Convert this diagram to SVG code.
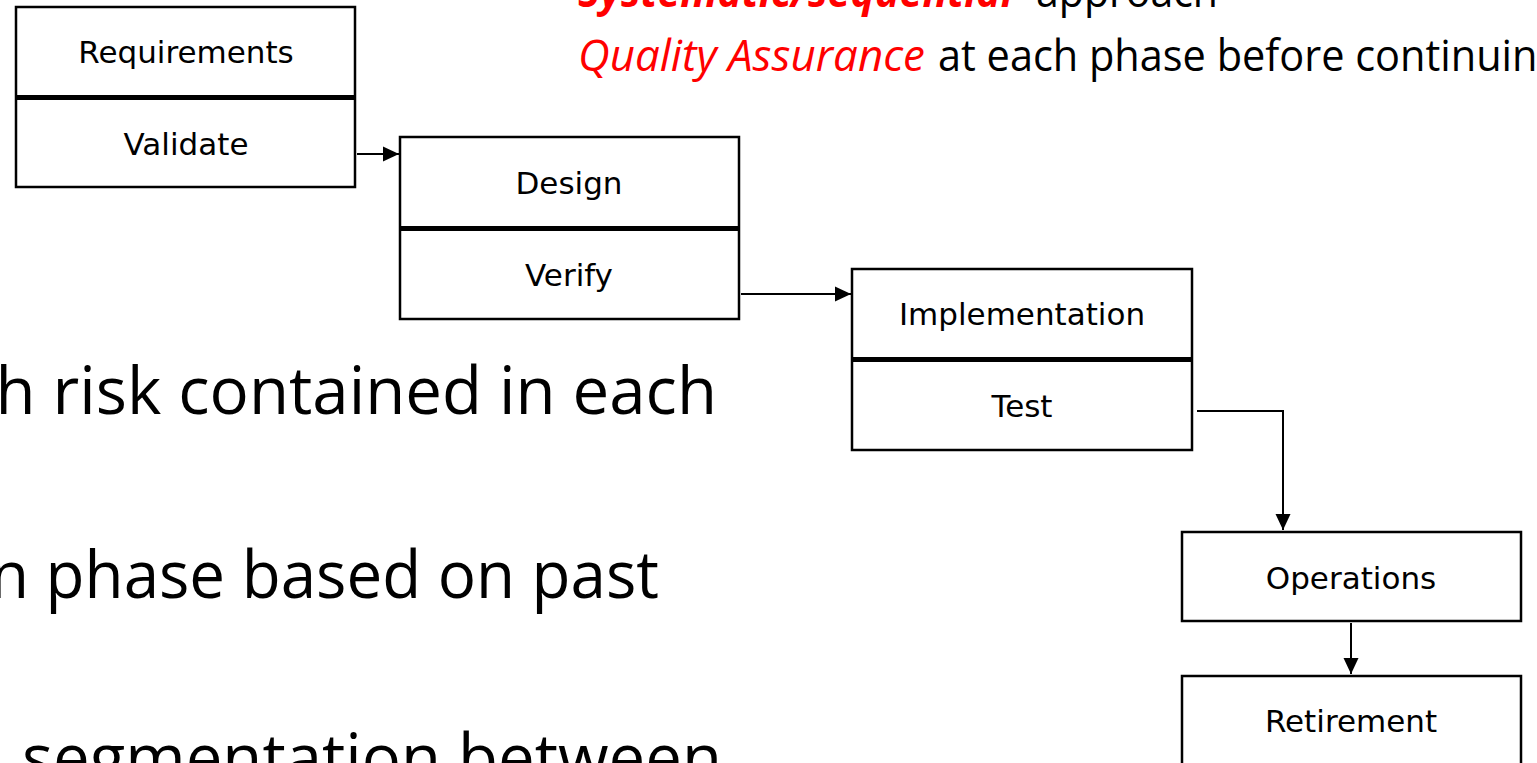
<svg xmlns="http://www.w3.org/2000/svg" width="1537" height="763" viewBox="0 0 1537 763">
<style>
.bg{fill:#ffffff}
.box{fill:#ffffff;stroke:#000000;stroke-width:2.5}
.div{stroke:#000000;stroke-width:5}
.lbl{font-family:"DejaVu Sans","Verdana",sans-serif;font-size:31px;fill:#000000;text-anchor:middle}
.conn{fill:none;stroke:#000000;stroke-width:2}
.body{font-family:"Open Sans","Noto Sans",sans-serif;fill:#000000}
.big{font-size:66px}
.top{font-size:43px}
.red{fill:#ff0000;font-style:italic}
.redb{fill:#ff0000;font-style:italic;font-weight:bold}
</style>
<defs>
<marker id="arr" markerUnits="userSpaceOnUse" markerWidth="17" markerHeight="16" refX="16" refY="8" orient="auto">
<path d="M0,0.5 L16,8 L0,15.5 Z" fill="#000000"/>
</marker>
</defs>
<rect class="bg" x="0" y="0" width="1537" height="763"/>
<g id="bullets">
<text class="body top redb" x="578" y="7" textLength="435" lengthAdjust="spacingAndGlyphs">Systematic/sequential</text>
<text class="body top" x="1036" y="7" textLength="182" lengthAdjust="spacingAndGlyphs">approach</text>
<text class="body top red" x="578" y="71" textLength="347" lengthAdjust="spacingAndGlyphs">Quality Assurance</text>
<text class="body top" x="938" y="71" textLength="622" lengthAdjust="spacingAndGlyphs">at each phase before continuing</text>
<text class="body big" x="717" y="414" text-anchor="end" textLength="812" lengthAdjust="spacingAndGlyphs">with risk contained in each</text>
<text class="body big" x="659" y="598" text-anchor="end" textLength="669" lengthAdjust="spacingAndGlyphs">n phase based on past</text>
<text class="body big" x="722" y="781" text-anchor="end" textLength="757" lengthAdjust="spacingAndGlyphs">d segmentation between</text>
</g>
<g id="node-requirements">
<rect class="box" x="16" y="7" width="339" height="180"/>
<line class="div" x1="16" y1="97.5" x2="355" y2="97.5"/>
<text class="lbl" x="186" y="63">Requirements</text>
<text class="lbl" x="186" y="155">Validate</text>
</g>
<g id="node-design">
<rect class="box" x="400" y="137" width="339" height="182"/>
<line class="div" x1="400" y1="228.5" x2="739" y2="228.5"/>
<text class="lbl" x="569" y="194">Design</text>
<text class="lbl" x="569" y="286">Verify</text>
</g>
<g id="node-implementation">
<rect class="box" x="852" y="269" width="340" height="181"/>
<line class="div" x1="852" y1="359.5" x2="1192" y2="359.5"/>
<text class="lbl" x="1022" y="325">Implementation</text>
<text class="lbl" x="1022" y="417">Test</text>
</g>
<g id="node-operations">
<rect class="box" x="1182" y="532" width="339" height="89"/>
<text class="lbl" x="1351" y="589">Operations</text>
</g>
<g id="node-retirement">
<rect class="box" x="1182" y="676" width="339" height="100"/>
<text class="lbl" x="1351" y="732">Retirement</text>
</g>
<g id="connectors">
<path class="conn" d="M357,154 L399,154" marker-end="url(#arr)"/>
<path class="conn" d="M741,294 L851,294" marker-end="url(#arr)"/>
<path class="conn" d="M1197,411 L1283,411 L1283,530" marker-end="url(#arr)"/>
<path class="conn" d="M1351,623 L1351,674" marker-end="url(#arr)"/>
</g>
</svg>
